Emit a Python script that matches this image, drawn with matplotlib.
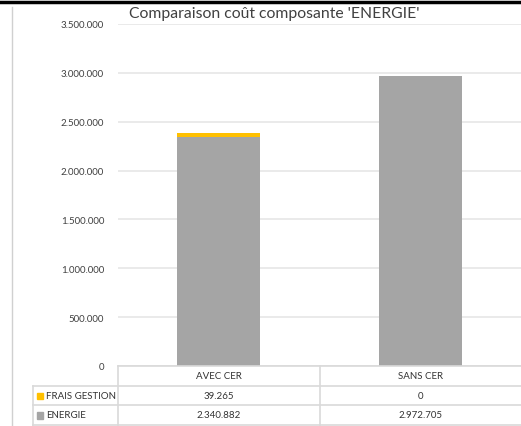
import matplotlib.pyplot as plt
from matplotlib.lines import Line2D
from matplotlib.patches import Rectangle
from matplotlib.ticker import FuncFormatter

plt.rcParams['font.family'] = ['Lato', 'DejaVu Sans']

# data
categories = ["AVEC CER", "SANS CER"]
series = ["FRAIS GESTION", "ENERGIE"]
energie = [2340882, 2972705]
frais = [39265, 0]
colors = {"ENERGIE": "#A5A5A5", "FRAIS GESTION": "#FFC000"}
yticks = [0, 500000, 1000000, 1500000, 2000000, 2500000, 3000000, 3500000]

W, H = 521, 427
fig = plt.figure(figsize=(W / 100, H / 100), dpi=100)


def fx(px):
    return px / W


def fy(py):
    return 1 - py / H


def fmt(v):
    return f"{int(v):,}".replace(",", ".")


# plot area
x0, x1 = 118, 521
ytop, ybot = 25, 367
ax = fig.add_axes([fx(x0), fy(ybot), fx(x1 - x0), (ybot - ytop) / H])
pos = range(len(categories))
ax.bar(pos, energie, width=0.41, color=colors["ENERGIE"], zorder=3)
ax.bar(pos, frais, width=0.41, bottom=energie, color=colors["FRAIS GESTION"], zorder=3)
ax.set_xlim(-0.5, 1.5)
ax.set_ylim(0, 3500000)
ax.set_yticks(yticks)
ax.yaxis.set_major_formatter(FuncFormatter(lambda v, p: fmt(v)))
ax.tick_params(axis='y', length=0, pad=10, labelsize=7, labelcolor="#404040")
ax.set_xticks([])
ax.grid(axis='y', color="#E6E6E6", linewidth=1.2, zorder=0)
for s in ax.spines.values():
    s.set_visible(False)

fig.text(fx(129), fy(14), "Comparaison coût composante 'ENERGIE'",
         fontsize=11.3, color="#404040", va="center", ha="left")

# data table under the chart
line_c = "#D9D9D9"
rows_y = [367, 387, 406, 426]
col_x = [33, 118, 320, 521]
fig.add_artist(Line2D([fx(118), fx(521)], [fy(367), fy(367)], color=line_c, lw=1.2))
for yy in rows_y[1:]:
    fig.add_artist(Line2D([fx(33), fx(521)], [fy(yy), fy(yy)], color=line_c, lw=1.2))
fig.add_artist(Line2D([fx(33), fx(33)], [fy(387), fy(427)], color=line_c, lw=1.2))
for xx in col_x[1:3]:
    fig.add_artist(Line2D([fx(xx), fx(xx)], [fy(367), fy(427)], color=line_c, lw=1.2))

centers = [ax.transData.transform((p, 0))[0] / W for p in pos]
for cx, cat in zip(centers, categories):
    fig.text(cx, fy(377), cat, fontsize=7, ha="center", va="center", color="#333333")
table_vals = {"FRAIS GESTION": frais, "ENERGIE": energie}
for name, yc in zip(series, [396.5, 416]):
    fig.add_artist(Rectangle((fx(37), fy(yc + 3.5)), fx(6), 6.5 / H,
                             color=colors[name], transform=fig.transFigure))
    fig.text(fx(46), fy(yc), name, fontsize=7, ha="left", va="center", color="#333333")
    for cx, v in zip(centers, table_vals[name]):
        fig.text(cx, fy(yc), fmt(v), fontsize=7, ha="center", va="center", color="#333333")

# page decorations around the chart
fig.add_artist(Line2D([fx(12), fx(12)], [0, fy(8)], color="#D0D0D0", lw=1))
fig.add_artist(Line2D([0, 1], [fy(3), fy(3)], color="black", lw=2.5))

fig.savefig("out.png", dpi=100)
